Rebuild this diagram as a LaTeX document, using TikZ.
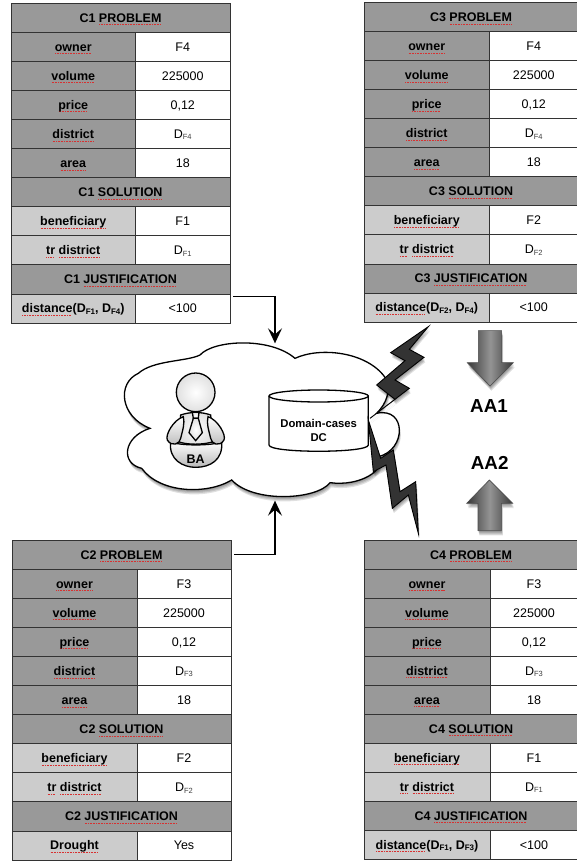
\documentclass[tikz,border=0pt]{standalone}
\usepackage{fontspec}
\setmainfont{Liberation Sans}
\usetikzlibrary{arrows.meta}
\definecolor{hdr}{HTML}{999999}
\definecolor{lite}{HTML}{CCCCCC}
\definecolor{sqred}{HTML}{D83030}
\definecolor{bolt}{HTML}{333333}
\newcommand\sq[1]{\leavevmode\setbox0\hbox{#1}\rlap{\smash{\raisebox{-3pt}{\textcolor{sqred}{\hbox to\wd0{\leaders\hbox to 1.6pt{\hss\rule{1pt}{.9pt}\hss}\hfill}}}}}\box0\relax}
\newcommand\dsub[1]{D{\fontsize{7.5}{8}\selectfont\raisebox{-1.5pt}{\textcolor{black!75}{#1}}}}
\newcommand\dsubb[1]{D{\fontsize{8}{8}\selectfont\raisebox{-1.5pt}{#1}}}
% table parameters: prefix, x0, xsplit, x1, ytop, ybottom
\newcommand\tsetup[6]{\def\tp{#1}\def\txa{#2}\def\txs{#3}\def\txb{#4}\def\tya{#5}\pgfmathsetmacro\trh{(#6-#5)/11}}
\newcommand\thead[2]{% index, text
  \pgfmathsetmacro\ww{\txb-\txa}\pgfmathsetmacro\xc{(\txa+\txb)/2}\pgfmathsetmacro\yc{\tya+(#1-.5)*\trh}
  \node[cell,fill=hdr,boldtext,minimum width=\ww pt,minimum height=\trh pt] (\tp-#1) at (\xc,\yc) {#2};}
\newcommand\trow[4]{% index, fill, left, right
  \pgfmathsetmacro\wl{\txs-\txa}\pgfmathsetmacro\wr{\txb-\txs}\pgfmathsetmacro\xl{(\txa+\txs)/2}\pgfmathsetmacro\xr{(\txs+\txb)/2}\pgfmathsetmacro\yc{\tya+(#1-.5)*\trh}
  \node[cell,fill=#2,boldtext,minimum width=\wl pt,minimum height=\trh pt] (\tp-#1-l) at (\xl,\yc) {#3};
  \node[cell,fill=white,minimum width=\wr pt,minimum height=\trh pt] (\tp-#1-r) at (\xr,\yc) {#4};}
\newcommand\casetable[9]{% name, owner, sub owner, beneficiary, sub benef, last left, last right
  \thead{1}{#1 \sq{PROBLEM}}
  \trow{2}{hdr}{\sq{owner}}{#2}
  \trow{3}{hdr}{\sq{volume}}{225000}
  \trow{4}{hdr}{\sq{price}}{0,12}
  \trow{5}{hdr}{\sq{district}}{\dsub{#3}}
  \trow{6}{hdr}{\sq{area}}{18}
  \thead{7}{#1 \sq{SOLUTION}}
  \trow{8}{lite}{\sq{beneficiary}}{#4}
  \trow{9}{lite}{\sq{tr} \sq{district}}{\dsub{#5}}
  \thead{10}{#1 \sq{JUSTIFICATION}}
  \trow{11}{lite}{#6}{#7}}
\def\softshadow#1{\foreach \dd in {1.2,2.4,3.6,4.8}{\fill[black,opacity=.12,xshift=.3*\dd pt,yshift=-\dd pt] #1;}}
\def\cloudpath{(240,195) .. controls (280,150) and (450,140) .. (525,205)
  .. controls (600,170) and (740,185) .. (795,262)
  .. controls (815,300) and (800,340) .. (770,370)
  .. controls (860,350) and (860,480) .. (775,500)
  .. controls (800,540) and (720,590) .. (630,578)
  .. controls (590,630) and (400,640) .. (335,570)
  .. controls (260,615) and (120,610) .. (65,535)
  .. controls (0,520) and (10,440) .. (90,415)
  .. controls (0,380) and (-10,280) .. (55,250)
  .. controls (100,210) and (200,215) .. (240,195) -- cycle}
\def\boltA{(205,20) -- (92,98) -- (135,122) -- (50,195) -- (105,238) -- (30,295) -- (148,205) -- (105,180) -- (192,112) -- (148,88) -- cycle}
\def\boltB{(25,0) -- (40,155) -- (78,135) -- (97,265) -- (145,225) -- (175,340) -- (167,185) -- (120,215) -- (100,90) -- (62,115) -- cycle}
\def\arrowA{(355,122) -- (425,122) -- (425,218) -- (460,218) -- (390,288) -- (322,218) -- (355,218) -- cycle}
\def\arrowB{(388,570) -- (458,640) -- (424,640) -- (424,722) -- (354,722) -- (354,640) -- (320,640) -- cycle}
\tikzset{
  cell/.style={draw=black!80,line width=.8pt,inner sep=0pt,align=center,text=black,text height=9pt,text depth=0pt,font=\fontsize{12.5}{14}\selectfont},
  boldtext/.style={font=\fontsize{12.5}{14}\selectfont\bfseries},
  link/.style={line width=1.8pt,-{Stealth[length=15pt,width=14pt,inset=6pt]}},
  zoomed/.style={x=.33333pt,y=-.33333pt},
  figure/.style={draw=black,line width=1.3pt,top color=white,bottom color=black!28},
  headfig/.style={draw=black,line width=1.3pt,inner color=white,outer color=black!12},
  boltshape/.style={draw=black,line width=.9pt,fill=bolt},
  bigarrow/.style={left color=black!78,right color=black!78,middle color=black!42},
  lbl/.style={inner sep=0pt,align=center}
}
\begin{document}
\begin{tikzpicture}[x=1pt,y=-1pt]
\useasboundingbox (0,0) rectangle (576,862);
\fill[white] (0,0) rectangle (576,862);
% cloud etc
\begin{scope}[zoomed,shift={(120pt,-290pt)}]
  \softshadow{\cloudpath}
  \draw[black,line width=1.3pt,fill=white] \cloudpath;
  \coordinate (cloudtop) at (465,160);
  \coordinate (cloudbot) at (465,632);
  % domain cases cylinder
  \draw[black,line width=1.3pt,fill=white] (447,318) -- (447,465) .. controls (447,490) and (745,490) .. (745,465) -- (745,318);
  \draw[black,line width=1.3pt,fill=white] (596,318) ellipse (149 and 18);
  \node[lbl,font=\fontsize{11.3}{14.5}\selectfont\bfseries] (dc) at (596,422) {Domain-cases\\DC};
\end{scope}
% person
\begin{scope}[zoomed,shift={(150pt,-360pt)}]
  \draw[figure] (62,245) .. controls (55,300) and (100,322) .. (137,322) .. controls (180,322) and (220,300) .. (215,245) .. controls (190,258) and (85,258) .. (62,245) -- cycle;
  \draw[headfig] (92,165) .. controls (120,155) and (155,155) .. (182,165) -- (190,245) .. controls (160,255) and (110,255) .. (85,245) -- cycle;
  \draw[figure] (100,170) .. controls (70,180) and (45,225) .. (52,240) .. controls (65,262) and (90,252) .. (92,235) .. controls (98,210) and (105,190) .. (100,170) -- cycle;
  \draw[figure] (174,170) .. controls (204,180) and (229,225) .. (222,240) .. controls (209,262) and (184,252) .. (182,235) .. controls (176,210) and (169,190) .. (174,170) -- cycle;
  \draw[headfig] (137,97) circle (58);
  \draw[headfig] (127,157) -- (147,157) -- (145,175) -- (130,175) -- cycle;
  \draw[headfig] (130,175) -- (117,218) -- (137,242) -- (157,218) -- (145,175) -- cycle;
  \node[lbl,font=\fontsize{12.5}{14}\selectfont\bfseries] (ba) at (137,298) {BA};
\end{scope}
% lightning
\begin{scope}[zoomed,shift={(360pt,-320pt)}]
  \softshadow{\boltA}
  \draw[boltshape] \boltA;
\end{scope}
\begin{scope}[zoomed,shift={(360pt,-420pt)}]
  \softshadow{\boltB}
  \draw[boltshape] \boltB;
\end{scope}
% big arrows
\begin{scope}[zoomed,shift={(360pt,-290pt)}]
  \softshadow{\arrowA}
  \softshadow{\arrowB}
  \shade[bigarrow] \arrowA;
  \shade[bigarrow] \arrowB;
  \draw[draw=black!70,line width=.6pt] \arrowA;
  \draw[draw=black!70,line width=.6pt] \arrowB;
  \node[lbl,font=\fontsize{18.8}{20}\selectfont\bfseries] (aa1) at (387,348) {AA1};
  \node[lbl,font=\fontsize{18.8}{20}\selectfont\bfseries] (aa2) at (389,520) {AA2};
\end{scope}
% tables
\tsetup{c1}{11}{135.5}{230}{3}{323}
\casetable{C1}{F4}{F4}{F1}{F1}{\sq{distance}(\dsubb{F1}, \dsubb{F4})}{<100}{}{}
\tsetup{c3}{364}{489.5}{578}{2.5}{322}
\casetable{C3}{F4}{F4}{F2}{F2}{\sq{distance}(\dsubb{F2}, \dsubb{F4})}{<100}{}{}
\tsetup{c2}{12}{137}{231}{540}{860}
\casetable{C2}{F3}{F3}{F2}{F2}{\sq{Drought}}{Yes}{}{}
\tsetup{c4}{364}{490}{578}{540}{859}
\casetable{C4}{F3}{F3}{F1}{F1}{\sq{distance}(\dsubb{F1}, \dsubb{F3})}{<100}{}{}
% connectors
\coordinate (c1out) at ([shift={(3pt,-3pt)}]c1-11-r.north east);
\coordinate (c2out) at ([xshift=3pt]c2-1.east);
\draw[link] (c1out) -| (cloudtop);
\draw[link] (c2out) -| (cloudbot);
\end{tikzpicture}
\end{document}
